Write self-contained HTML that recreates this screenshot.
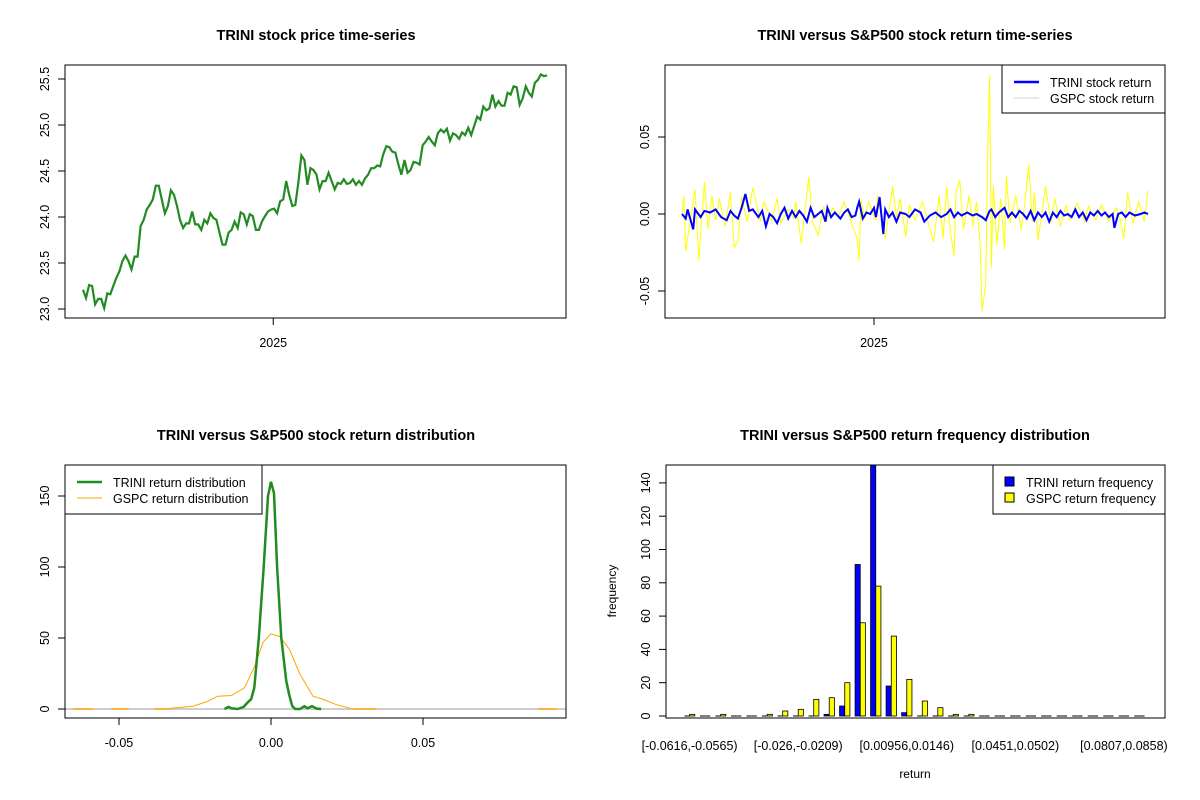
<!DOCTYPE html>
<html><head><meta charset="utf-8"><style>
html,body{margin:0;padding:0;background:#fff;}
svg{display:block;font-family:"Liberation Sans",Arial,sans-serif;}
</style></head><body>
<svg id="c" width="1200" height="800" viewBox="0 0 1200 800" xmlns="http://www.w3.org/2000/svg"></svg>
<script>
// ---------- Panel 1: price series ----------
const priceValues=[23.21,23.12,23.26,23.25,23.05,23.11,23.11,23.01,23.17,23.16,23.25,23.34,23.41,23.52,23.58,23.52,23.43,23.57,23.57,23.90,23.97,24.08,24.13,24.19,24.34,24.34,24.19,24.04,24.12,24.29,24.24,24.12,23.97,23.88,23.93,23.93,24.06,23.92,23.92,23.86,23.97,23.93,24.04,23.99,23.97,23.83,23.70,23.70,23.83,23.86,23.95,23.88,24.05,24.03,23.92,24.03,24.01,23.86,23.86,23.95,24.01,24.06,24.08,24.09,24.04,24.17,24.19,24.39,24.24,24.12,24.13,24.37,24.67,24.62,24.35,24.53,24.51,24.46,24.30,24.39,24.39,24.48,24.39,24.30,24.37,24.36,24.41,24.36,24.37,24.41,24.35,24.39,24.35,24.42,24.46,24.53,24.53,24.56,24.55,24.68,24.77,24.76,24.71,24.70,24.57,24.46,24.62,24.48,24.51,24.60,24.59,24.57,24.78,24.82,24.87,24.82,24.78,24.91,24.95,24.92,24.96,24.83,24.91,24.89,24.85,24.92,24.89,24.97,24.89,24.99,25.09,25.06,25.20,25.16,25.18,25.33,25.20,25.26,25.21,25.21,25.35,25.33,25.42,25.41,25.22,25.29,25.42,25.35,25.31,25.46,25.49,25.55,25.53,25.54];
const priceTicks=[23.0,23.5,24.0,24.5,25.0,25.5];
const priceTickLabels=["23.0","23.5","24.0","24.5","25.0","25.5"];
const yearTickFraction=0.41;
// ---------- Panel 2: returns ----------
const trDays=[0,2,3,6,7,10,12,15,18,21,24,26,28,30,32,34,36,38,41,43,45,47,49,51,53,55,57,59,61,63,65,67,69,71,73,75,77,78,80,82,85,87,89,91,93,94,95,97,99,101,103,104,106,108,109,111,113,115,117,120,122,125,128,130,133,136,139,142,144,146,148,150,153,156,158,161,163,165,166,168,170,173,175,177,179,181,183,185,187,189,191,193,195,197,199,201,203,205,207,209,211,213,215,217,219,221,223,225,227,229,231,232,234,236,238,240,243,246,248,250];
const trReturns=[0,-0.003,0.003,-0.010,0.003,-0.002,0.002,0.001,0.003,-0.002,-0.004,0.002,-0.001,-0.003,0.004,0.013,0.002,0.003,-0.002,0.002,-0.008,0.000,-0.002,-0.006,0.000,0.004,-0.003,0.002,-0.002,0.002,-0.001,-0.005,0.004,-0.002,0.000,0.002,-0.005,0.004,-0.002,0.001,-0.003,0.001,0.003,-0.002,-0.001,0.004,0.008,-0.003,0.001,0.000,0.004,-0.002,0.011,-0.013,0.003,-0.002,0.001,-0.005,0.001,0.000,-0.002,0.003,0.001,-0.005,-0.001,0.001,-0.002,0.000,0.003,-0.002,0.001,-0.001,0.001,-0.001,0.000,-0.002,-0.004,0.002,0.003,-0.002,0.001,0.004,-0.002,0.001,-0.002,0.002,0.000,-0.003,0.002,-0.004,0.001,-0.002,0.001,-0.005,0.001,-0.002,0.002,-0.001,0.000,-0.002,0.003,-0.002,0.001,-0.004,0.001,-0.001,0.002,-0.001,0.001,-0.002,0.000,-0.009,0.000,0.001,-0.002,0.001,-0.001,0.000,0.001,0];
const spDays=[0,1,2,7,9,12,14,16,18,20,23,26,28,30,32,35,38,42,44,48,51,53,57,60,61,64,66,68,70,73,76,78,81,84,87,91,94,95,96,98,100,104,105,109,113,115,117,120,122,125,129,132,135,138,140,142,144,146,147,149,151,154,156,158,160,161,163,164,165,166,167,169,171,173,174,176,179,182,184,186,188,189,191,194,195,198,200,203,206,208,212,216,218,222,225,229,233,235,237,239,242,245,248,250];
const spReturns=[0,0.012,-0.024,0.016,-0.030,0.021,-0.010,0.012,-0.004,0.010,-0.008,0.014,-0.022,-0.017,0.011,-0.005,0.017,-0.005,0.008,-0.004,0.010,-0.006,0.003,-0.003,0.008,-0.019,0.003,0.024,-0.005,-0.014,0.005,-0.003,0.004,-0.002,0.008,-0.006,-0.016,-0.030,0.009,-0.003,0.008,-0.004,0.012,-0.016,0.018,-0.002,0.010,-0.015,0.006,-0.004,0.008,-0.005,-0.018,0.012,-0.016,0.018,-0.012,-0.027,0.014,0.022,-0.010,0.012,-0.008,0.008,-0.020,-0.063,-0.045,0.038,0.090,-0.035,0.018,-0.020,0.010,-0.023,0.025,-0.006,0.012,-0.010,0.008,0.032,-0.005,0.014,-0.017,0.008,0.018,-0.005,0.010,-0.008,0.006,-0.004,0.007,-0.005,0.005,-0.004,0.006,-0.005,0.004,-0.003,-0.016,0.014,-0.006,0.008,-0.005,0.015];
const retTicks=[-0.05,0,0.05];
const retTickLabels=["-0.05","0.00","0.05"];
const yearDay=103;
// ---------- Panel 3: densities ----------
const trDensX=[-0.0153,-0.014,-0.013,-0.011,-0.009,-0.0075,-0.0065,-0.0055,-0.004,-0.0024,-0.001,0,0.001,0.002,0.0034,0.005,0.006,0.007,0.008,0.0095,0.011,0.012,0.0135,0.015,0.0165];
const trDensY=[0,1.5,0.5,0,1.5,5,7,15,50,100,150,160,152,100,50,20,10,2,0,0,2,0.5,2,0.3,0];
const spDensX=[-0.033,-0.0257,-0.0213,-0.0175,-0.013,-0.0087,-0.0054,-0.0026,0,0.0029,0.0061,0.0094,0.0138,0.017,0.0215,0.027];
const spDensY=[0.5,2,5,9,9.5,15,30,47,53,51,42,25,9,7,3,0];
const spFlatStart=[-0.0651,-0.0525,-0.0383,0.027,0.088];
const spFlatEnd=[-0.0586,-0.0468,-0.0328,0.0347,0.094];
const densXTicks=[-0.05,0,0.05];
const densXLabels=["-0.05","0.00","0.05"];
const densYTicks=[0,50,100,150];
// ---------- Panel 4: histogram ----------
const trFreq=[0,0,0,0,0,0,0,0,0,1,6,91,160,18,2,0,0,0,0,0,0,0,0,0,0,0,0,0,0,0];
const spFreq=[1,0,1,0,0,1,3,4,10,11,20,56,78,48,22,9,5,1,1,0,0,0,0,0,0,0,0,0,0,0];
const binLabels={0:"[-0.0616,-0.0565)",7:"[-0.026,-0.0209)",14:"[0.00956,0.0146)",21:"[0.0451,0.0502)",28:"[0.0807,0.0858)"};
const freqTicks=[0,20,40,60,80,100,120,140];

const svg=document.getElementById('c');
const NS="http://www.w3.org/2000/svg";
function el(tag,attrs,parent,text){const e=document.createElementNS(NS,tag);for(const k in attrs)e.setAttribute(k,attrs[k]);if(text!==undefined)e.textContent=text;(parent||svg).appendChild(e);return e;}
function grp(name){const g=el('g',{});return g;}
function box(g,x0,y0,x1,y1){const r=el('rect',{x:x0,y:y0,width:x1-x0,height:y1-y0,fill:'none',stroke:'#000','stroke-width':1},g);}
function title(g,x,y,t){const e=el('text',{x:x,y:y,'text-anchor':'middle','font-size':'14.5','font-weight':'bold'},g,t);}
function ytick(g,xAxis,y,label){el('line',{x1:xAxis-7,y1:y,x2:xAxis,y2:y,stroke:'#000'},g);const t=el('text',{x:0,y:0,'text-anchor':'middle','font-size':'12.5',transform:`translate(${xAxis-16},${y}) rotate(-90)`},g,label);}
function xtick(g,x,yAxis,label){el('line',{x1:x,y1:yAxis,x2:x,y2:yAxis+7,stroke:'#000'},g);const t=el('text',{x:x,y:yAxis+29,'text-anchor':'middle','font-size':'12.5'},g,label);}
function poly(g,pts,color,w,name){const p=el('polyline',{points:pts.map(p=>p[0].toFixed(1)+','+p[1].toFixed(1)).join(' '),fill:'none',stroke:color,'stroke-width':w,'stroke-linejoin':'miter'},g);return p;}

// Panel 1
(function(){
  const g=grp('price-panel');const L=65,R=566,T=65,B=318;
  const xs=i=>83+i*(547-83)/(priceValues.length-1);
  const ys=v=>309-(v-23.0)*92;
  title(g,316,40,'TRINI stock price time-series');
  poly(g,priceValues.map((v,i)=>[xs(i),ys(v)]),'#228B22',2.2,'price-line');
  priceTicks.forEach((v,i)=>ytick(g,L,ys(v),priceTickLabels[i]));
  xtick(g,83+yearTickFraction*(547-83),B,'2025');
  box(g,L,T,R,B);
})();
// Panel 2
(function(){
  const g=grp('return-panel');const L=665,R=1165,T=65,B=318;
  const xs=d=>682+d*(1148-682)/250;
  const ys=v=>214-v*1540;
  title(g,915,40,'TRINI versus S&P500 stock return time-series');
  const clip=el('clipPath',{id:'cp2'},g);el('rect',{x:L,y:T,width:R-L,height:B-T},clip);
  const inner=el('g',{'clip-path':'url(#cp2)'},g);
  poly(inner,spDays.map((d,i)=>[xs(d),ys(spReturns[i])]),'#ffff00',1,'gspc-return-line');
  poly(inner,trDays.map((d,i)=>[xs(d),ys(trReturns[i])]),'#0000ff',2,'trini-return-line');
  retTicks.forEach((v,i)=>ytick(g,L,ys(v),retTickLabels[i]));
  xtick(g,xs(yearDay),B,'2025');
  const lg=el('g',{},g);
  el('rect',{x:1002,y:65,width:163,height:48,fill:'#fff',stroke:'#000'},lg);
  el('line',{x1:1014,y1:82,x2:1039,y2:82,stroke:'#0000ff','stroke-width':2.5},lg);
  el('line',{x1:1014,y1:98,x2:1039,y2:98,stroke:'#d3d3d3','stroke-width':1},lg);
  el('text',{x:1050,y:87,'font-size':'12.5'},lg,'TRINI stock return');
  el('text',{x:1050,y:103,'font-size':'12.5'},lg,'GSPC stock return');
  box(g,L,T,R,B);
})();
// Panel 3
(function(){
  const g=grp('density-panel');const L=65,R=566,T=465,B=718;
  const xs=v=>271+v*3040;
  const ys=v=>709-v*1.42;
  title(g,316,440,'TRINI versus S&P500 stock return distribution');
  poly(g,spDensX.map((x,i)=>[xs(x),ys(spDensY[i])]),'#FFA500',1,'gspc-density-line');
  const bl=el('line',{x1:L,y1:709,x2:R,y2:709,stroke:'#bebebe','stroke-width':1.5},g);
  
  spFlatStart.forEach((s,i)=>{const l=el('line',{x1:xs(s),y1:709,x2:xs(spFlatEnd[i]),y2:709,stroke:'#FFA500','stroke-width':1.5},g);});
  poly(g,trDensX.map((x,i)=>[xs(x),ys(trDensY[i])]),'#228B22',2.5,'trini-density-line');
  densYTicks.forEach(v=>ytick(g,L,ys(v),String(v)));
  densXTicks.forEach((v,i)=>xtick(g,xs(v),B,densXLabels[i]));
  const lg=el('g',{},g);
  el('rect',{x:65,y:465,width:197,height:49,fill:'#fff',stroke:'#000'},lg);
  el('line',{x1:77,y1:482,x2:102,y2:482,stroke:'#228B22','stroke-width':2.5},lg);
  el('line',{x1:77,y1:498,x2:102,y2:498,stroke:'#FFA500','stroke-width':1},lg);
  el('text',{x:113,y:487,'font-size':'12.5'},lg,'TRINI return distribution');
  el('text',{x:113,y:503,'font-size':'12.5'},lg,'GSPC return distribution');
  box(g,L,T,R,B);
})();
// Panel 4
(function(){
  const g=grp('histogram-panel');const L=666,R=1165,T=465,B=718;
  const unit=5.17, x0=679.3;
  const xu=u=>x0+u*unit;
  const ys=v=>716-v*1.665;
  title(g,915,440,'TRINI versus S&P500 return frequency distribution');
  const clip=el('clipPath',{id:'cp4'},g);el('rect',{x:L,y:T,width:R-L,height:B-T},clip);
  const inner=el('g',{'clip-path':'url(#cp4)'},g);
  function bar(u,v,color,name){
    let b;
    if(v===0){b=el('line',{x1:xu(u),y1:ys(0),x2:xu(u)+unit,y2:ys(0),stroke:'#000','stroke-width':1},inner);}
    else{b=el('rect',{x:xu(u),y:ys(v),width:unit,height:ys(0)-ys(v),fill:color,stroke:'#000','stroke-width':0.8},inner);}
    
    
  }
  trFreq.forEach((v,k)=>{
    const start=1+3*k;
    bar(start,v,'#0000ff','trini-freq-bar');
    bar(start+1,spFreq[k],'#ffff00','gspc-freq-bar');
  });
  freqTicks.forEach(v=>ytick(g,L,ys(v),String(v)));
  Object.keys(binLabels).forEach(k=>{const t=el('text',{x:xu(3*k+2),y:750,'text-anchor':'middle','font-size':'12.5'},g,binLabels[k]);});
  const xt=el('text',{x:915,y:778,'text-anchor':'middle','font-size':'12'},g,'return');
  const yt=el('text',{x:0,y:0,'text-anchor':'middle','font-size':'12',transform:'translate(616,591) rotate(-90)'},g,'frequency');
  const lg=el('g',{},g);
  el('rect',{x:993,y:465,width:172,height:49,fill:'#fff',stroke:'#000'},lg);
  el('rect',{x:1005,y:477,width:9,height:9,fill:'#0000ff',stroke:'#000'},lg);
  el('rect',{x:1005,y:493,width:9,height:9,fill:'#ffff00',stroke:'#000'},lg);
  el('text',{x:1026,y:487,'font-size':'12.5'},lg,'TRINI return frequency');
  el('text',{x:1026,y:503,'font-size':'12.5'},lg,'GSPC return frequency');
  box(g,L,T,R,B);
})();
</script>
</body></html>
